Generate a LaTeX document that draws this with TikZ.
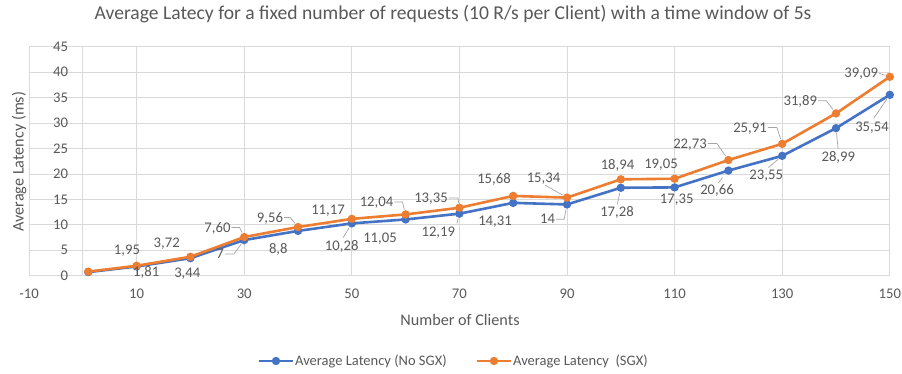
\documentclass[tikz,border=0pt]{standalone}
\usepackage{fontspec}
\setmainfont{Carlito}
\usetikzlibrary{calc}
\definecolor{seriesA}{HTML}{4472C4}
\definecolor{seriesB}{HTML}{ED7D31}
\definecolor{gridgray}{HTML}{D9D9D9}
\definecolor{txtgray}{HTML}{595959}
\definecolor{leadgray}{HTML}{A6A6A6}
\begin{document}
\begin{tikzpicture}[x=1pt,y=-1pt,
  gridline/.style={gridgray, line width=0.8pt},
  ticklbl/.style={text=txtgray, font=\fontsize{14.7}{17}\selectfont, inner sep=1pt, text height=9.3pt, text depth=0pt},
  dlbl/.style={text=txtgray, font=\fontsize{14.7}{17}\selectfont, inner sep=1pt, text height=9.3pt, text depth=0pt},
  axtitle/.style={text=txtgray, font=\fontsize{16.2}{19}\selectfont, inner sep=0pt},
  charttitle/.style={text=txtgray, font=\fontsize{19.6}{23}\selectfont, inner sep=0pt},
  legtext/.style={text=txtgray, font=\fontsize{14.5}{17}\selectfont, inner sep=0pt, anchor=west},
  lineA/.style={seriesA, line width=2.6pt, line join=round},
  lineB/.style={seriesB, line width=2.6pt, line join=round},
  leader/.style={leadgray, line width=0.7pt, shorten >=5pt}]
\useasboundingbox (0,0) rectangle (902,374);
\fill[white] (0,0) rectangle (902,374);

% title
\node[charttitle, anchor=base] (title) at (453,19.5) {Average Latecy for a fixed number of requests (10 R/s per Client) with a time window of 5s};

% plot area in data units
\begin{scope}[shift={(82.8,275.7)}, x=5.38pt, y=5.089pt]
  \foreach \v in {0,5,...,45} \draw[gridline] (-10,\v) -- (150,\v);
  \foreach \u in {-10,10,...,150} \draw[gridline] (\u,0) -- (\u,45);
  \draw[gridline] (0,0) -- (0,45);
  \foreach \v in {0,5,...,45} \node[ticklbl, anchor=east] at (-2.5,\v) {\v};
  \foreach \u in {-10,10,...,150} \node[ticklbl] at (\u,-3.6) {\u};

  \foreach \xv/\yv [count=\i] in {1/0.7,10/1.81,20/3.44,30/7,40/8.8,50/10.28,60/11.05,70/12.19,80/14.31,90/14,100/17.28,110/17.35,120/20.66,130/23.55,140/28.99,150/35.54}
    \coordinate (b\i) at (\xv,\yv);
  \foreach \xv/\yv [count=\i] in {1/0.8,10/1.95,20/3.72,30/7.60,40/9.56,50/11.17,60/12.04,70/13.35,80/15.68,90/15.34,100/18.94,110/19.05,120/22.73,130/25.91,140/31.89,150/39.09}
    \coordinate (o\i) at (\xv,\yv);

  \draw[lineA] (b1) \foreach \i in {2,...,16}{ -- (b\i)};
  \foreach \i in {1,...,16} \fill[seriesA] (b\i) circle[radius=4.2pt];
  \draw[lineB] (o1) \foreach \i in {2,...,16}{ -- (o\i)};
  \foreach \i in {1,...,16} \fill[seriesB] (o\i) circle[radius=4.2pt];
\end{scope}

% axis titles
\node[axtitle, anchor=base] (xtitle) at (460,325) {Number of Clients};
\node[axtitle, rotate=90] (ytitle) at (19,161.7) {Average Latency (ms)};

% data labels, SGX series
\node[dlbl] (lo2)  at (127,250)     {1,95};
\node[dlbl] (lo3)  at (166.7,243.3) {3,72};
\node[dlbl] (lo4)  at (217.5,227.5) {7,60};
\node[dlbl] (lo5)  at (270,217.5)   {9,56};
\node[dlbl] (lo6)  at (328,210)     {11,17};
\node[dlbl] (lo7)  at (376.5,202)   {12,04};
\node[dlbl] (lo8)  at (431,198)     {13,35};
\node[dlbl] (lo9)  at (494,179.3)   {15,68};
\node[dlbl] (lo10) at (543.5,178.3) {15,34};
\node[dlbl] (lo11) at (617.5,165)   {18,94};
\node[dlbl] (lo12) at (661,163.5)   {19,05};
\node[dlbl] (lo13) at (690,143.5)   {22,73};
\node[dlbl] (lo14) at (750,127.5)   {25,91};
\node[dlbl] (lo15) at (800.3,100.7) {31,89};
\node[dlbl] (lo16) at (861.2,73.3)  {39,09};

% data labels, No SGX series
\node[dlbl] (lb2)  at (146.2,271.5) {1,81};
\node[dlbl] (lb3)  at (187.3,272.8) {3,44};
\node[dlbl] (lb4)  at (220,254)     {7};
\node[dlbl] (lb5)  at (278.3,248.8) {8,8};
\node[dlbl] (lb6)  at (341.7,246)   {10,28};
\node[dlbl] (lb7)  at (380,237.5)   {11,05};
\node[dlbl] (lb8)  at (438.3,232.2) {12,19};
\node[dlbl] (lb9)  at (495,221.3)   {14,31};
\node[dlbl] (lb10) at (547.5,219.2) {14};
\node[dlbl] (lb11) at (617,212.2)   {17,28};
\node[dlbl] (lb12) at (676.7,198.8) {17,35};
\node[dlbl] (lb13) at (717,190.3)   {20,66};
\node[dlbl] (lb14) at (766.2,175.3) {23,55};
\node[dlbl] (lb15) at (838.3,156.7) {28,99};
\node[dlbl] (lb16) at (872,126.7)   {35,54};

% leader lines
\draw[leader] (lo4.east)  -- ++(8,0) -- (o4);
\draw[leader] (lo5.east)  -- ++(6,0) -- (o5);
\draw[leader] (lo7.east)  -- ++(8,0) -- (o7);
\draw[leader] (lo8.east)  -- ++(9,0) -- (o8);
\draw[leader, shorten <=2pt] (lo10.south) -- (o10);
\draw[leader] (lo13.east) -- ++(9,0) -- (o13);
\draw[leader] (lo14.east) -- ++(9,0) -- (o14);
\draw[leader] (lo15.east) -- ++(8,0) -- (o15);
\draw[leader] (lo16.east) -- (o16);
\draw[leader] (lb4.east)  -- ++(9,0) -- (b4);
\draw[leader, shorten <=3pt] (lb6.north) -- (b6);
\draw[leader, shorten <=3pt] (lb8.north east) -- (b8);
\draw[leader] (lb10.east) -- ++(8,0) -- (b10);
\draw[leader, shorten <=2pt] (lb11.north) -- (b11);
\draw[leader, shorten <=2pt, shorten >=9pt] (lb13.north) -- (b13);
\draw[leader, shorten <=3pt] (lb14.north) -- (b14);
\draw[leader, shorten <=2pt] (lb15.north) -- (b15);
\draw[leader, shorten <=3pt] (lb16.north) -- (b16);

% legend
\coordinate (kA1) at (259,361); \coordinate (kA2) at (293,361);
\draw[lineA] (kA1) -- (kA2);
\fill[seriesA] ($(kA1)!0.5!(kA2)$) circle[radius=4.2pt];
\node[legtext] (legA) at (295,361) {Average Latency (No SGX)};
\coordinate (kB1) at (477,361); \coordinate (kB2) at (511,361);
\draw[lineB] (kB1) -- (kB2);
\fill[seriesB] ($(kB1)!0.5!(kB2)$) circle[radius=4.2pt];
\node[legtext] (legB) at (513,361) {Average Latency\ \ (SGX)};
\end{tikzpicture}
\end{document}
